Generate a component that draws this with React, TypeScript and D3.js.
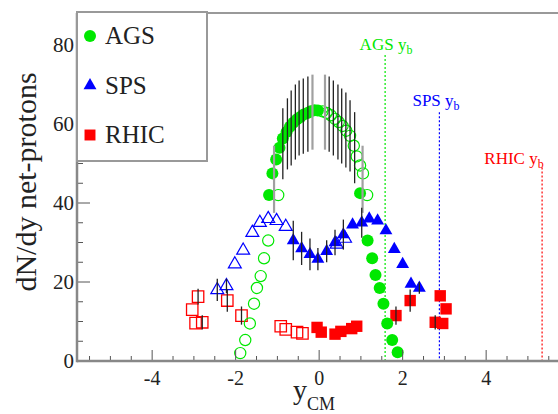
import React from "react";
import * as d3 from "d3";

// ---------- data ----------
// [rapidity, dN/dy]
const agsFilled: [number, number][] = [
  [-1.2, 42], [-1.12, 47.5], [-1.03, 51], [-0.95, 54], [-0.87, 56.3], [-0.78, 58],
  [-0.7, 59.3], [-0.62, 60.3], [-0.53, 61.2], [-0.45, 61.8], [-0.37, 62.4],
  [-0.28, 62.8], [-0.2, 63.2], [-0.11, 63.5], [-0.03, 63.4],
  [0.98, 42.5], [1.16, 30.5], [1.27, 26], [1.35, 21.8], [1.45, 18.5], [1.54, 14.5],
  [1.63, 9.5], [1.75, 5.3], [1.88, 2.2],
];
const agsOpen: [number, number][] = [
  [0.08, 63.2], [0.18, 62.8], [0.28, 62.2], [0.38, 61.3], [0.47, 60.5], [0.56, 59.5],
  [0.65, 58.3], [0.74, 57], [0.83, 54.5], [0.9, 51.8], [0.98, 49.5], [1.05, 47.5],
  [1.15, 42],
  [-0.98, 42], [-1.22, 30.5], [-1.32, 26], [-1.4, 21.5], [-1.49, 18.5], [-1.56, 14.5],
  [-1.66, 9.5], [-1.77, 5.3], [-1.89, 2],
];
// [rapidity, centre, half-error]
const agsErrors: [number, number, number][] = [
  [-0.87, 55, 9], [-0.76, 57.5, 9], [-0.67, 59, 9.5], [-0.57, 60.5, 9.5], [-0.48, 61.5, 9.5],
  [-0.38, 62, 9.5], [-0.27, 62.5, 9.5], [0.24, 62.5, 9.5], [0.34, 61.5, 9.5],
  [0.45, 60.5, 9.5], [0.54, 59.5, 9.5], [0.64, 58.5, 9.5], [0.74, 57, 9], [0.85, 54, 9],
];
const agsErrorsSys: [number, number, number][] = [
  [-1.08, 46, 8.5], [-0.16, 63, 9.5], [0.14, 63, 9.5], [1.04, 46, 8.5],
];

// [rapidity, dN/dy, half-error]
const spsFilled: [number, number, number][] = [
  [-0.62, 30.5, 5], [-0.42, 28.5, 4.2], [-0.22, 27, 4], [-0.03, 25.8, 2.8], [0.18, 27.8, 2.8],
  [0.38, 30, 3.2], [0.58, 32, 3.8], [0.8, 34.5, 0], [1.02, 35, 3.8], [1.2, 36, 0],
  [1.4, 35.5, 0], [1.6, 33, 0], [1.8, 28.3, 0], [2.0, 24.5, 0], [2.2, 19.5, 0], [2.4, 18.5, 1.5],
];
const spsOpen: [number, number, number][] = [
  [-2.44, 18, 2.8], [-2.22, 19, 1.8], [-2.02, 24.5, 0], [-1.82, 28, 0], [-1.6, 32.5, 0],
  [-1.42, 35, 0], [-1.22, 36, 0], [-1.02, 35.5, 0], [-0.8, 34, 0], [0.42, 29.5, 0], [0.62, 31, 0],
];

const rhicFilled: [number, number, number][] = [
  [-0.05, 8.5, 0], [0.05, 7.3, 0], [0.38, 6.8, 0], [0.52, 7.5, 0], [0.78, 8.2, 0], [0.9, 8.8, 0],
  [1.84, 11.5, 2.3], [2.18, 15.3, 2.8], [2.78, 9.8, 1.8], [2.9, 16.5, 0], [2.96, 9.5, 0],
  [3.04, 13.2, 0],
];
const rhicOpen: [number, number, number][] = [
  [-0.92, 8.8, 0], [-0.8, 8, 0], [-0.53, 7.3, 0], [-0.4, 7, 0], [-1.86, 11.5, 2.3],
  [-2.2, 15.3, 2.8], [-2.8, 9.8, 1.8], [-2.9, 16.3, 2], [-2.96, 9.6, 0], [-3.04, 13, 0],
];

const beamNames = ["AGS", "SPS", "RHIC"];
const beamRapidity = [1.58, 2.88, 5.34];
const beamLineTop = [77.5, 63, 49]; // dN/dy value where each dashed line starts

const legendLabels = ["AGS", "SPS", "RHIC"];
const xTickLabels = [-4, -2, 0, 2, 4];
const yTickLabels = [0, 20, 40, 60, 80];

// ---------- layout ----------
const W = 558;
const H = 414;
const GREEN = "#00e800";
const BLUE = "#0000ff";
const RED = "#ff0000";
const beamColors = [GREEN, BLUE, RED];
const beamLabelX = [386, 436, 514];
const beamLabelY = [50, 106, 164];
const FONT = "Liberation Serif, Times New Roman, DejaVu Serif, serif";

const x = d3.scaleLinear().domain([-5.8, 5.8]).range([77, 561.3]);
const y = d3.scaleLinear().domain([0, 88]).range([361, 13.4]);

const triPath = d3.symbol().type(d3.symbolTriangle).size(72)() as string;
const sqPath = d3.symbol().type(d3.symbolSquare).size(130)() as string;

function ErrBars({ data, color, width }: { data: [number, number, number][]; color: string; width: number }) {
  return (
    <g stroke={color} strokeWidth={width}>
      {data
        .filter((d) => d[2] > 0)
        .map((d, i) => (
          <line key={i} x1={x(d[0])} x2={x(d[0])} y1={y(d[1] - d[2])} y2={y(d[1] + d[2])} />
        ))}
    </g>
  );
}

export default function App() {
  const xMinor = d3.range(-5.5, 5.51, 0.5);
  const yMinor = d3.range(0, 86, 5);
  return (
    <svg
      width={W}
      height={H}
      style={{ position: "absolute", left: 0, top: 0, background: "#fff", fontFamily: FONT }}
    >
      {/* frame */}
      <line x1={77} x2={W} y1={13} y2={13} stroke="#999" strokeWidth={2} />

      {/* beam rapidity lines */}
      {beamNames.map((n, i) => (
        <g key={n}>
          <line
            x1={x(beamRapidity[i])}
            x2={x(beamRapidity[i])}
            y1={y(beamLineTop[i])}
            y2={y(0)}
            stroke={beamColors[i]}
            strokeWidth={1.2}
            strokeDasharray="2,2"
          />
          <text
            x={beamLabelX[i]}
            y={beamLabelY[i]}
            fill={beamColors[i]}
            fontSize={17}
            textAnchor="middle"
          >
            {n} y
            <tspan fontSize={12} dy={4}>
              b
            </tspan>
          </text>
        </g>
      ))}

      {/* RHIC squares */}
      <g>
        {rhicOpen.map((d, i) => (
          <path key={i} d={sqPath} transform={`translate(${x(d[0])},${y(d[1])})`} fill="none" stroke={RED} strokeWidth={1.3} />
        ))}
        {rhicFilled.map((d, i) => (
          <path key={i} d={sqPath} transform={`translate(${x(d[0])},${y(d[1])})`} fill={RED} />
        ))}
      </g>

      {/* SPS triangles */}
      <g>
        {spsOpen.map((d, i) => (
          <path key={i} d={triPath} transform={`translate(${x(d[0])},${y(d[1])})`} fill="none" stroke={BLUE} strokeWidth={1.2} />
        ))}
        {spsFilled.map((d, i) => (
          <path key={i} d={triPath} transform={`translate(${x(d[0])},${y(d[1])})`} fill={BLUE} />
        ))}
      </g>

      {/* AGS circles */}
      <g>
        {agsOpen.map((d, i) => (
          <circle key={i} cx={x(d[0])} cy={y(d[1])} r={5.6} fill="none" stroke={GREEN} strokeWidth={1.2} />
        ))}
        {agsFilled.map((d, i) => (
          <circle key={i} cx={x(d[0])} cy={y(d[1])} r={6} fill={GREEN} />
        ))}
      </g>

      {/* error bars */}
      <ErrBars data={agsErrorsSys} color="#a0a0a0" width={2.2} />
      <ErrBars data={agsErrors} color="#222" width={1.3} />
      <ErrBars data={spsFilled} color="#222" width={1.3} />
      <ErrBars data={spsOpen} color="#222" width={1.3} />
      <ErrBars data={rhicFilled} color="#222" width={1.3} />
      <ErrBars data={rhicOpen} color="#222" width={1.3} />

      {/* axes */}
      <g stroke="#555" strokeWidth={1}>
        {xMinor.map((v) => (
          <line key={"xm" + v} x1={x(v)} x2={x(v)} y1={y(0)} y2={y(0) - (xTickLabels.includes(v) ? 11 : 5)} />
        ))}
        {yMinor.map((v) => (
          <line key={"ym" + v} x1={x(-5.8)} x2={x(-5.8) + (yTickLabels.includes(v) ? 13 : 6)} y1={y(v)} y2={y(v)} />
        ))}
      </g>
      <line x1={77} x2={W} y1={y(0)} y2={y(0)} stroke="#888" strokeWidth={2.5} />
      <line x1={77} x2={77} y1={13} y2={y(0) + 1.2} stroke="#888" strokeWidth={2.5} />

      {xTickLabels.map((v) => (
        <text key={"xl" + v} x={x(v)} y={385} fontSize={20} textAnchor="middle" fill="#222">
          {v}
        </text>
      ))}
      {yTickLabels.map((v) => (
        <text key={"yl" + v} x={74} y={y(v) + 7} fontSize={21} textAnchor="end" fill="#222">
          {v}
        </text>
      ))}

      {/* axis titles */}
      <text x={293} y={399} fontSize={28} fill="#222">
        y
        <tspan fontSize={18} dy={11}>
          CM
        </tspan>
      </text>
      <text
        transform={`translate(36,182) rotate(-90)`}
        fontSize={30}
        textAnchor="middle"
        fill="#222"
      >
        dN/dy net-protons
      </text>

      {/* legend */}
      <rect x={77} y={12} width={130} height={149} fill="#fff" stroke="#999" strokeWidth={2} />
      {legendLabels.map((l, i) => {
        const cy = 36 + i * 49.5;
        return (
          <g key={l}>
            {i === 0 && <circle cx={90} cy={cy} r={6} fill={GREEN} />}
            {i === 1 && <path d={triPath} transform={`translate(90,${cy})`} fill={BLUE} />}
            {i === 2 && <path d={d3.symbol().type(d3.symbolSquare).size(120)() as string} transform={`translate(90,${cy})`} fill={RED} />}
            <text x={105} y={cy + 8} fontSize={25} fill="#222">
              {l}
            </text>
          </g>
        );
      })}
    </svg>
  );
}
